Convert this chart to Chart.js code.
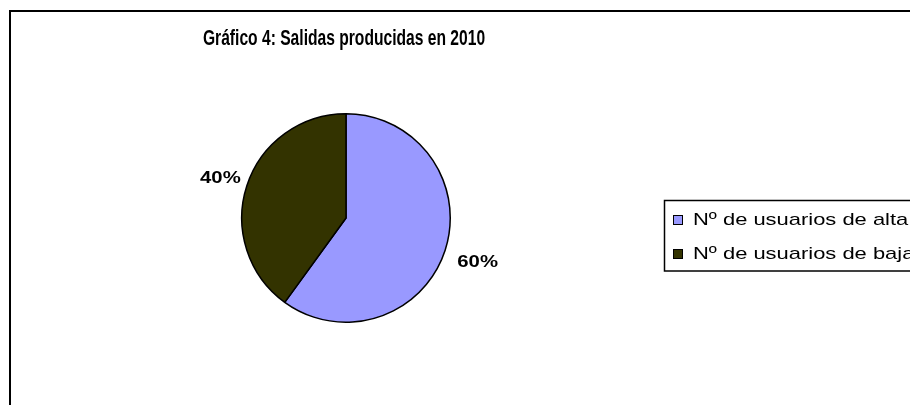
<!DOCTYPE html>
<html>
<head>
<meta charset="utf-8">
<script src="https://cdn.jsdelivr.net/npm/chart.js@4/dist/chart.umd.min.js"></script>
<style>
  html, body { margin: 0; padding: 0; background: #ffffff; }
  #wrap { width: 910px; height: 405px; }
</style>
</head>
<body>
<div id="wrap"><canvas id="c" width="910" height="405"></canvas></div>
<script>
// ---- data ----
const titleText = 'Gráfico 4: Salidas producidas en 2010';
const categories = ['Nº de usuarios de alta', 'Nº de usuarios de baja'];
const values = [60, 40];
const colors = ['#9999FF', '#333300'];

const FONT = '"Liberation Sans", Arial, sans-serif';

function drawScaledText(ctx, text, x, y, sx, align) {
  ctx.save();
  const w = ctx.measureText(text).width * sx;
  let x0 = x;
  if (align === 'center') x0 = x - w / 2;
  else if (align === 'right') x0 = x - w;
  ctx.translate(x0, y);
  ctx.scale(sx, 1);
  ctx.textAlign = 'left';
  ctx.fillText(text, 0, 0);
  ctx.restore();
}

const decor = {
  id: 'decor',
  afterDraw(chart) {
    const ctx = chart.ctx;
    ctx.save();
    // outer frame (extends past right/bottom edges)
    ctx.strokeStyle = '#000';
    ctx.lineWidth = 2;
    ctx.strokeRect(10, 11, chart.width + 20, chart.height + 20);

    // title
    ctx.fillStyle = '#000';
    ctx.textBaseline = 'alphabetic';
    ctx.font = 'bold 22px ' + FONT;
    drawScaledText(ctx, titleText, 344, 45, 0.71, 'center');

    // legend box
    ctx.lineWidth = 1.5;
    ctx.strokeStyle = '#000';
    ctx.strokeRect(664.5, 200.5, 300, 70.5);
    ctx.font = '17px ' + FONT;
    categories.forEach((lab, i) => {
      const cy = 220 + i * 34;
      ctx.fillStyle = colors[i];
      ctx.fillRect(673.5, cy - 4.5, 9, 9);
      ctx.lineWidth = 1;
      ctx.strokeStyle = '#000';
      ctx.strokeRect(673.5, cy - 4.5, 9, 9);
      ctx.fillStyle = '#000';
      drawScaledText(ctx, lab, 693, cy + 4.5, 1.29, 'left');
    });

    // percentage labels outside each slice
    const meta = chart.getDatasetMeta(0);
    const total = values.reduce((a, b) => a + b, 0);
    ctx.font = 'bold 16px ' + FONT;
    ctx.fillStyle = '#000';
    meta.data.forEach((arc, i) => {
      const p = arc.getProps(['x', 'y', 'startAngle', 'endAngle', 'outerRadius'], true);
      const mid = (p.startAngle + p.endAngle) / 2;
      const d = p.outerRadius + 31;
      const lx = p.x + Math.cos(mid) * d + 3;
      const ly = p.y + Math.sin(mid) * d;
      const txt = Math.round(values[i] / total * 100) + '%';
      drawScaledText(ctx, txt, lx, ly + 7, 1.27, 'center');
    });
    ctx.restore();
  }
};

new Chart(document.getElementById('c'), {
  type: 'pie',
  data: {
    labels: categories,
    datasets: [{
      data: values,
      backgroundColor: colors,
      borderColor: '#000000',
      borderWidth: 1.5,
      hoverOffset: 0
    }]
  },
  options: {
    responsive: false,
    animation: false,
    events: [],
    layout: { padding: { top: 113, bottom: 82, left: 240, right: 458 } },
    plugins: {
      legend: { display: false },
      title: { display: false },
      tooltip: { enabled: false }
    }
  },
  plugins: [decor]
});
</script>
</body>
</html>
